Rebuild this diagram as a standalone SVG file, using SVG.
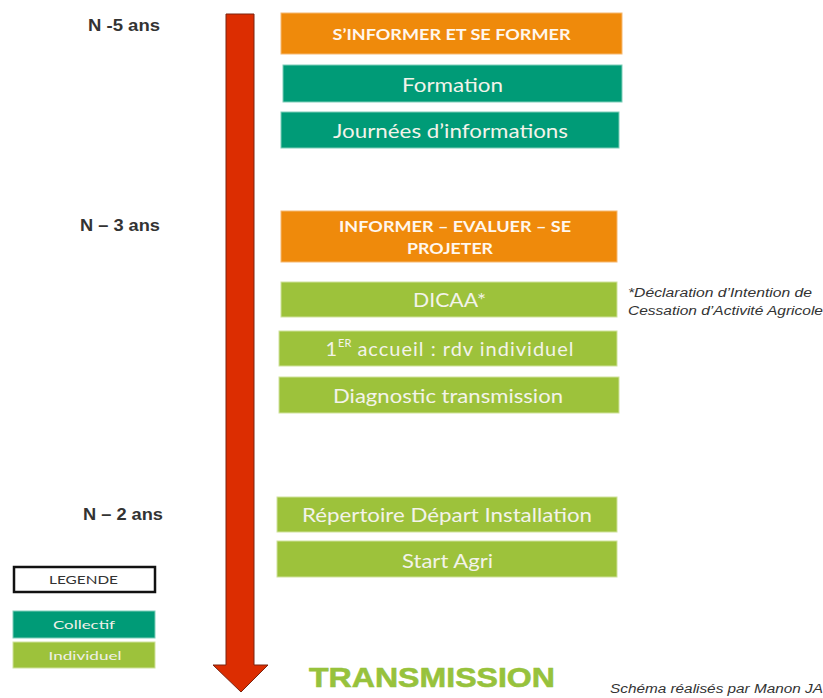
<svg xmlns="http://www.w3.org/2000/svg" width="823" height="698" viewBox="0 0 823 698">
<style>
.bg{fill:#ffffff}
.or{fill:#ef8a0b;stroke:#f6b870;stroke-width:1}
.co{fill:#009b77;stroke:#7fcdb9;stroke-width:1}
.in{fill:#9dc23b;stroke:#cfe29c;stroke-width:1}
.t{font-family:Lato,"Open Sans","Liberation Sans",sans-serif;fill:#f3f3ea;text-anchor:middle;dominant-baseline:central}
.th{font-family:Lato,"Open Sans","Liberation Sans",sans-serif;fill:#fff7ee;font-weight:bold;text-anchor:middle;dominant-baseline:central;font-size:15px}
.tb{font-size:19px}
.lab{font-family:"Liberation Sans",Arial,sans-serif;font-size:16px;font-weight:bold;fill:#333;text-anchor:middle;dominant-baseline:central}
.note{font-family:"Liberation Sans",Arial,sans-serif;font-style:italic;font-size:12px;fill:#333}
.leg{font-family:Lato,"Open Sans","Liberation Sans",sans-serif;font-size:12px;text-anchor:middle;dominant-baseline:central}
</style>
<rect class="bg" x="0" y="0" width="823" height="698"/>

<g id="timeline-labels">
<text class="lab" x="124" y="25" textLength="72" lengthAdjust="spacingAndGlyphs">N -5 ans</text>
<text class="lab" x="120" y="225" textLength="80" lengthAdjust="spacingAndGlyphs">N – 3 ans</text>
<text class="lab" x="123" y="514" textLength="80" lengthAdjust="spacingAndGlyphs">N – 2 ans</text>
</g>

<g id="connectors">
<polygon points="226,14 254,14 254,665 268,665 241,692 213,665 226,665" fill="#dc2d01" stroke="#7a2410" stroke-width="1"/>
</g>

<g id="n-sinformer">
<rect class="or" x="281" y="13" width="341" height="41"/>
<text class="th" x="451.5" y="34" textLength="238" lengthAdjust="spacingAndGlyphs">S’INFORMER ET SE FORMER</text>
</g>
<g id="n-formation">
<rect class="co" x="283" y="65" width="339" height="37"/>
<text class="t tb" x="452.5" y="84" textLength="101" lengthAdjust="spacingAndGlyphs">Formation</text>
</g>
<g id="n-journees">
<rect class="co" x="281" y="112" width="338" height="36"/>
<text class="t tb" x="450.5" y="130" textLength="235" lengthAdjust="spacingAndGlyphs">Journées d’informations</text>
</g>

<g id="n-informer">
<rect class="or" x="281" y="211" width="336" height="51"/>
<text class="th" x="455" y="226" textLength="232" lengthAdjust="spacingAndGlyphs">INFORMER – EVALUER – SE</text>
<text class="th" x="450" y="248" textLength="86" lengthAdjust="spacingAndGlyphs">PROJETER</text>
</g>
<g id="n-dicaa">
<rect class="in" x="281" y="282" width="336" height="35"/>
<text class="t tb" x="449.5" y="299" textLength="73" lengthAdjust="spacingAndGlyphs">DICAA*</text>
</g>
<g id="n-accueil">
<rect class="in" x="279" y="331" width="338" height="35"/>
<text class="t" x="450" y="348" font-size="20px" letter-spacing="1px">1<tspan font-size="11px" dy="-6" letter-spacing="0">ER</tspan><tspan dy="6"> accueil : rdv individuel</tspan></text>
</g>
<g id="n-diagnostic">
<rect class="in" x="279" y="377" width="340" height="36"/>
<text class="t tb" x="448" y="395" textLength="230" lengthAdjust="spacingAndGlyphs">Diagnostic transmission</text>
</g>
<g id="n-repertoire">
<rect class="in" x="277" y="497" width="340" height="35"/>
<text class="t tb" x="447" y="514" textLength="290" lengthAdjust="spacingAndGlyphs">Répertoire Départ Installation</text>
</g>
<g id="n-start">
<rect class="in" x="277" y="541" width="340" height="36"/>
<text class="t tb" x="447.5" y="560" textLength="91" lengthAdjust="spacingAndGlyphs">Start Agri</text>
</g>

<g id="footnote">
<text class="note" x="628" y="297" textLength="184" lengthAdjust="spacingAndGlyphs">*Déclaration d’Intention de</text>
<text class="note" x="628" y="315" textLength="195" lengthAdjust="spacingAndGlyphs">Cessation d’Activité Agricole</text>
</g>

<g id="legend">
<rect x="14" y="567" width="141" height="25" fill="#ffffff" stroke="#111" stroke-width="2.5"/>
<text class="leg" x="83.5" y="579.5" fill="#333" textLength="69" lengthAdjust="spacingAndGlyphs">LEGENDE</text>
<rect class="co" x="13" y="611" width="142" height="27"/>
<text class="leg" x="84" y="624.5" fill="#f0f0e8" font-size="14px" textLength="62" lengthAdjust="spacingAndGlyphs">Collectif</text>
<rect class="in" x="13" y="642" width="142" height="26"/>
<text class="leg" x="85" y="655" fill="#f0f0e8" font-size="14px" textLength="73" lengthAdjust="spacingAndGlyphs">Individuel</text>
</g>

<g id="n-transmission">
<text x="309" y="687" font-family="'Liberation Sans',Arial,sans-serif" font-weight="bold" font-size="28px" fill="#97c23c" stroke="#97c23c" stroke-width="0.6" textLength="246" lengthAdjust="spacingAndGlyphs">TRANSMISSION</text>
</g>

<g id="credit">
<text class="note" x="610" y="693" font-size="12px" textLength="213" lengthAdjust="spacingAndGlyphs">Schéma réalisés par Manon JA</text>
</g>
</svg>
